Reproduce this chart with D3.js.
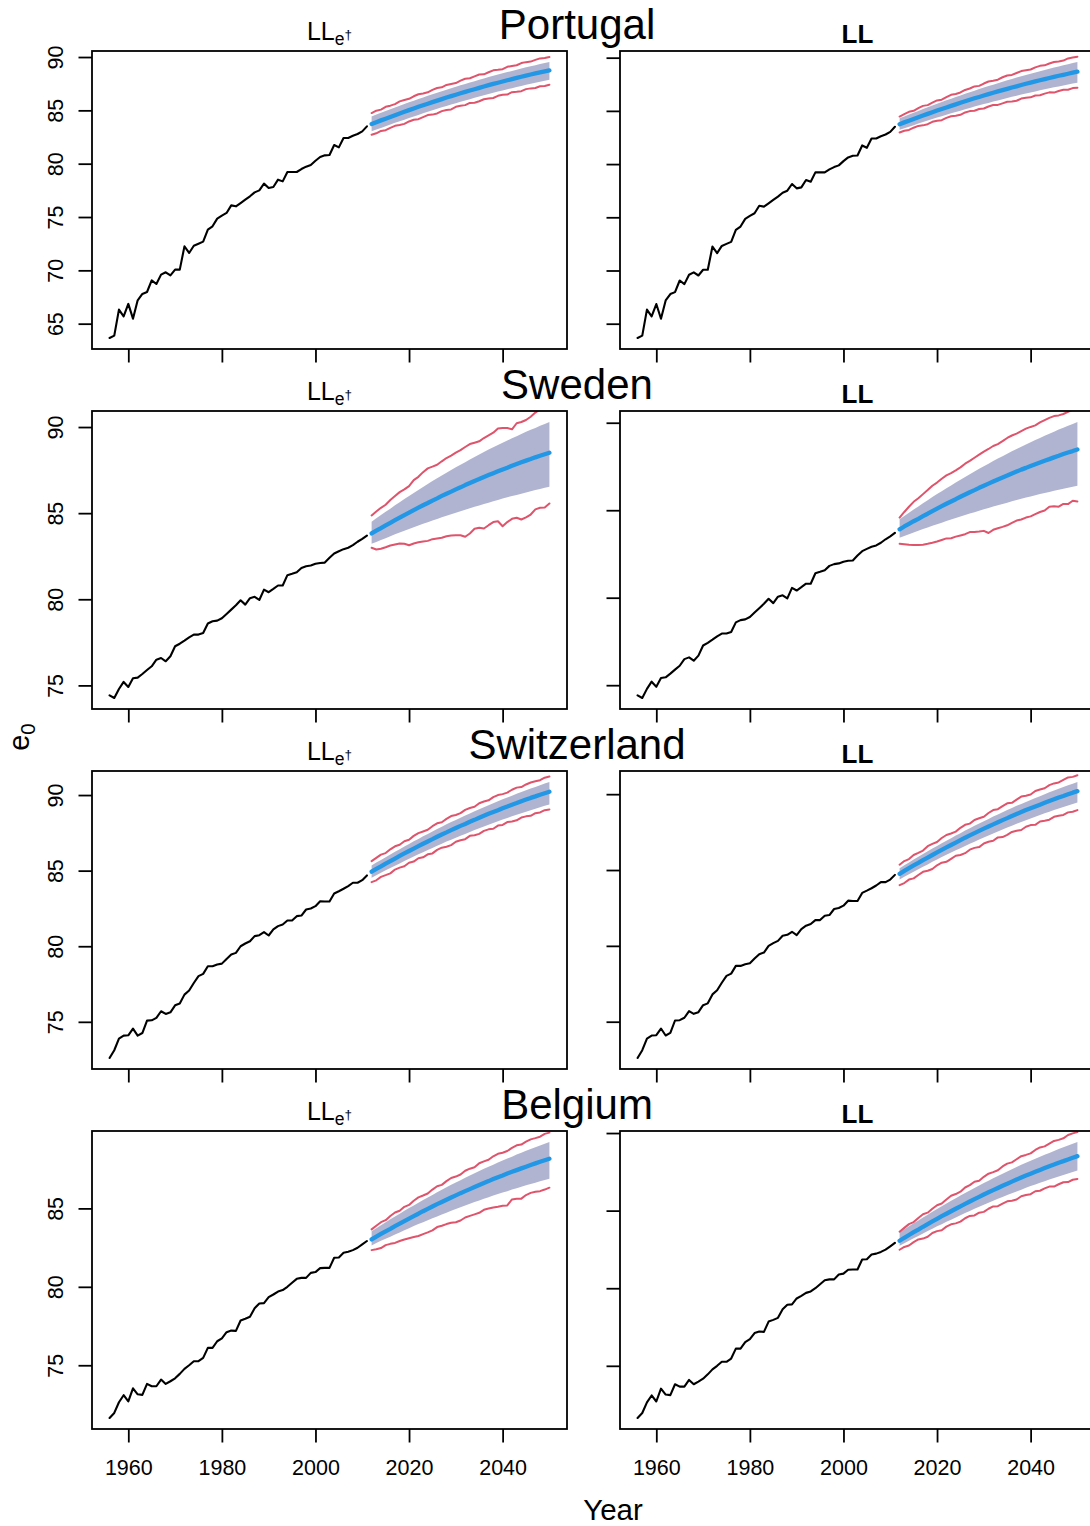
<!DOCTYPE html>
<html>
<head>
<meta charset="utf-8">
<script src="https://cdn.jsdelivr.net/npm/d3@7"></script>
<style>
  html, body { margin: 0; padding: 0; background: #fff; }
  svg { display: block; font-family: "Liberation Sans", Arial, Helvetica, sans-serif; }
</style>
</head>
<body>
<svg id="chart" width="1090" height="1526"></svg>
<script>
// ---------------------------------------------------------------------------
// Female life expectancy at birth (e0): observed 1956-2011, forecast 2012-2050
// ---------------------------------------------------------------------------
const histYears = d3.range(1956, 2012);
const fcYears = d3.range(2012, 2051);

const countries = ["Portugal", "Sweden", "Switzerland", "Belgium"];
const methodLabels = ["LLe†", "LL"];

// Observed series
const ptHist = [63.66, 63.88, 66.32, 65.69, 66.85, 65.47, 67.19, 67.79, 67.97, 69.06,
  68.72, 69.60, 69.82, 69.53, 70.07, 70.07, 72.25, 71.63, 72.31, 72.50,
  72.69, 73.81, 74.13, 74.85, 75.13, 75.38, 76.09, 76.00, 76.31, 76.63,
  76.94, 77.31, 77.50, 78.13, 77.72, 77.81, 78.50, 78.34, 79.22, 79.22,
  79.22, 79.50, 79.72, 79.88, 80.28, 80.63, 80.78, 80.81, 81.75, 81.53,
  82.41, 82.41, 82.62, 82.78, 83.03, 83.50];
const seHist = [74.42, 74.27, 74.79, 75.20, 74.91, 75.41, 75.45, 75.66, 75.89, 76.11,
  76.49, 76.59, 76.40, 76.69, 77.27, 77.42, 77.60, 77.79, 77.95, 77.95,
  78.04, 78.59, 78.72, 78.76, 78.90, 79.15, 79.40, 79.65, 79.94, 79.69,
  80.06, 80.14, 79.96, 80.56, 80.41, 80.60, 80.80, 80.80, 81.40, 81.48,
  81.57, 81.82, 81.92, 81.96, 82.06, 82.11, 82.13, 82.41, 82.66, 82.79,
  82.91, 82.99, 83.14, 83.34, 83.51, 83.70];
const chHist = [72.61, 73.12, 73.89, 74.09, 74.11, 74.55, 74.09, 74.26, 75.08, 75.10,
  75.26, 75.70, 75.52, 75.63, 76.09, 76.21, 76.80, 77.07, 77.57, 78.02,
  78.17, 78.68, 78.68, 78.79, 78.85, 79.16, 79.45, 79.56, 80.00, 80.18,
  80.33, 80.67, 80.73, 80.93, 80.71, 81.11, 81.33, 81.44, 81.70, 81.70,
  81.99, 82.03, 82.43, 82.50, 82.65, 82.98, 82.96, 82.96, 83.49, 83.64,
  83.80, 83.98, 84.20, 84.20, 84.37, 84.68];
const beHist = [71.64, 71.96, 72.64, 73.09, 72.70, 73.53, 73.15, 73.11, 73.81, 73.66,
  73.66, 74.09, 73.81, 73.98, 74.17, 74.45, 74.77, 75.00, 75.26, 75.26,
  75.47, 76.11, 76.11, 76.53, 76.72, 77.11, 77.21, 77.19, 77.85, 77.96,
  78.09, 78.64, 78.94, 78.96, 79.34, 79.51, 79.70, 79.79, 80.00, 80.26,
  80.51, 80.57, 80.57, 80.89, 80.94, 81.19, 81.21, 81.21, 81.85, 81.87,
  82.17, 82.23, 82.34, 82.49, 82.70, 82.92];

// Portugal forecasts
const ptLLeMean = [83.72, 83.89, 84.06, 84.22, 84.38, 84.55, 84.71, 84.87, 85.02, 85.17, 85.33, 85.48, 85.62, 85.77, 85.91, 86.05, 86.20, 86.33, 86.47, 86.60, 86.73, 86.86, 86.98, 87.11, 87.24, 87.36, 87.48, 87.59, 87.71, 87.82, 87.93, 88.04, 88.15, 88.25, 88.36, 88.46, 88.56, 88.65, 88.75];
const ptLLeInnerHi = [84.43, 84.60, 84.77, 84.94, 85.10, 85.27, 85.43, 85.59, 85.75, 85.90, 86.06, 86.21, 86.36, 86.51, 86.65, 86.80, 86.94, 87.08, 87.22, 87.35, 87.48, 87.61, 87.74, 87.87, 87.99, 88.12, 88.24, 88.36, 88.47, 88.59, 88.70, 88.81, 88.92, 89.03, 89.13, 89.23, 89.34, 89.43, 89.53];
const ptLLeInnerLo = [83.03, 83.20, 83.35, 83.51, 83.67, 83.83, 83.98, 84.13, 84.28, 84.43, 84.57, 84.72, 84.86, 85.00, 85.14, 85.28, 85.41, 85.54, 85.67, 85.80, 85.92, 86.05, 86.17, 86.29, 86.41, 86.53, 86.65, 86.76, 86.87, 86.98, 87.08, 87.19, 87.29, 87.39, 87.49, 87.59, 87.69, 87.78, 87.87];
const ptLLeOuterHi = [84.75, 84.97, 85.07, 85.33, 85.44, 85.58, 85.84, 85.97, 86.08, 86.32, 86.51, 86.58, 86.69, 86.92, 87.10, 87.16, 87.38, 87.48, 87.56, 87.79, 87.96, 88.01, 88.19, 88.36, 88.38, 88.57, 88.75, 88.80, 88.86, 89.08, 89.16, 89.23, 89.43, 89.52, 89.57, 89.73, 89.87, 89.90, 90.00];
const ptLLeOuterLo = [82.72, 82.85, 83.07, 83.14, 83.36, 83.55, 83.62, 83.73, 83.96, 84.12, 84.17, 84.36, 84.56, 84.60, 84.71, 84.93, 85.04, 85.09, 85.33, 85.43, 85.49, 85.70, 85.72, 85.85, 86.04, 86.11, 86.16, 86.36, 86.46, 86.48, 86.70, 86.74, 86.80, 86.99, 87.06, 87.10, 87.26, 87.29, 87.40];
const ptLLMean = [83.75, 83.92, 84.08, 84.24, 84.40, 84.56, 84.72, 84.87, 85.03, 85.18, 85.32, 85.47, 85.61, 85.76, 85.90, 86.04, 86.18, 86.31, 86.44, 86.57, 86.70, 86.83, 86.95, 87.07, 87.20, 87.31, 87.43, 87.55, 87.66, 87.77, 87.88, 87.99, 88.09, 88.19, 88.30, 88.39, 88.49, 88.59, 88.68];
const ptLLInnerHi = [84.30, 84.48, 84.65, 84.83, 85.00, 85.17, 85.34, 85.51, 85.67, 85.83, 85.99, 86.15, 86.30, 86.45, 86.61, 86.76, 86.90, 87.05, 87.19, 87.33, 87.46, 87.60, 87.73, 87.87, 88.00, 88.13, 88.25, 88.37, 88.50, 88.61, 88.73, 88.84, 88.96, 89.07, 89.18, 89.28, 89.39, 89.49, 89.59];
const ptLLInnerLo = [83.22, 83.37, 83.52, 83.66, 83.81, 83.95, 84.09, 84.23, 84.37, 84.50, 84.63, 84.77, 84.90, 85.02, 85.15, 85.28, 85.40, 85.52, 85.64, 85.75, 85.87, 85.98, 86.10, 86.21, 86.32, 86.42, 86.53, 86.63, 86.73, 86.83, 86.93, 87.03, 87.12, 87.21, 87.30, 87.39, 87.48, 87.57, 87.65];
const ptLLOuterHi = [84.47, 84.69, 84.91, 85.01, 85.25, 85.47, 85.54, 85.77, 85.98, 86.05, 86.29, 86.51, 86.59, 86.73, 86.97, 87.10, 87.30, 87.35, 87.57, 87.76, 87.83, 87.93, 88.16, 88.32, 88.38, 88.56, 88.74, 88.81, 88.89, 89.09, 89.23, 89.28, 89.45, 89.60, 89.65, 89.73, 89.93, 90.02, 90.09];
const ptLLOuterLo = [82.97, 83.13, 83.21, 83.42, 83.59, 83.64, 83.75, 83.97, 84.08, 84.13, 84.34, 84.49, 84.54, 84.63, 84.85, 84.98, 85.01, 85.18, 85.22, 85.41, 85.55, 85.56, 85.71, 85.86, 85.88, 85.95, 86.16, 86.23, 86.27, 86.45, 86.47, 86.62, 86.74, 86.72, 86.87, 86.99, 86.99, 87.14, 87.18];

// Sweden forecasts
const seLLeMean = [83.82, 83.98, 84.13, 84.29, 84.44, 84.59, 84.74, 84.89, 85.03, 85.18, 85.32, 85.46, 85.59, 85.73, 85.86, 86.00, 86.13, 86.25, 86.38, 86.50, 86.63, 86.75, 86.87, 86.98, 87.10, 87.21, 87.32, 87.43, 87.54, 87.64, 87.75, 87.85, 87.95, 88.05, 88.14, 88.24, 88.33, 88.42, 88.51];
const seLLeInnerHi = [84.50, 84.70, 84.89, 85.08, 85.26, 85.46, 85.64, 85.82, 86.00, 86.17, 86.35, 86.52, 86.69, 86.86, 87.02, 87.19, 87.35, 87.51, 87.66, 87.81, 87.96, 88.11, 88.26, 88.40, 88.55, 88.69, 88.83, 88.96, 89.09, 89.22, 89.35, 89.47, 89.60, 89.72, 89.84, 89.95, 90.07, 90.18, 90.29];
const seLLeInnerLo = [83.22, 83.33, 83.44, 83.55, 83.66, 83.77, 83.87, 83.98, 84.08, 84.18, 84.28, 84.38, 84.47, 84.57, 84.66, 84.76, 84.85, 84.94, 85.03, 85.11, 85.20, 85.29, 85.37, 85.45, 85.53, 85.61, 85.69, 85.77, 85.85, 85.92, 85.99, 86.06, 86.13, 86.20, 86.27, 86.34, 86.40, 86.47, 86.53];
const seLLeOuterHi = [84.87, 85.10, 85.31, 85.49, 85.76, 85.99, 86.22, 86.38, 86.57, 86.92, 87.11, 87.38, 87.60, 87.70, 87.81, 88.01, 88.20, 88.34, 88.51, 88.66, 88.84, 89.01, 89.09, 89.17, 89.36, 89.52, 89.67, 89.91, 89.94, 89.94, 89.87, 90.22, 90.29, 90.41, 90.60, 90.84, 91.03, 91.11, 91.18];
const seLLeOuterLo = [82.99, 82.89, 82.93, 83.02, 83.12, 83.18, 83.24, 83.22, 83.14, 83.24, 83.31, 83.35, 83.39, 83.49, 83.53, 83.57, 83.66, 83.70, 83.72, 83.72, 83.63, 83.82, 84.09, 84.15, 84.11, 84.30, 84.48, 84.53, 84.24, 84.48, 84.67, 84.73, 84.63, 84.75, 84.92, 85.22, 85.31, 85.33, 85.56];
const seLLMean = [83.91, 84.07, 84.22, 84.37, 84.51, 84.66, 84.80, 84.95, 85.09, 85.23, 85.37, 85.50, 85.63, 85.77, 85.90, 86.03, 86.15, 86.28, 86.40, 86.52, 86.64, 86.76, 86.87, 86.98, 87.10, 87.21, 87.32, 87.42, 87.53, 87.63, 87.73, 87.83, 87.92, 88.02, 88.11, 88.21, 88.30, 88.38, 88.47];
const seLLInnerHi = [84.48, 84.67, 84.85, 85.04, 85.21, 85.40, 85.57, 85.75, 85.92, 86.09, 86.25, 86.42, 86.58, 86.74, 86.90, 87.06, 87.22, 87.37, 87.52, 87.66, 87.81, 87.95, 88.09, 88.23, 88.37, 88.50, 88.63, 88.76, 88.89, 89.01, 89.13, 89.26, 89.37, 89.49, 89.61, 89.72, 89.83, 89.93, 90.04];
const seLLInnerLo = [83.43, 83.53, 83.63, 83.73, 83.82, 83.92, 84.01, 84.11, 84.20, 84.29, 84.38, 84.47, 84.55, 84.64, 84.73, 84.81, 84.89, 84.97, 85.05, 85.13, 85.21, 85.28, 85.36, 85.43, 85.51, 85.58, 85.65, 85.72, 85.79, 85.85, 85.92, 85.98, 86.04, 86.11, 86.17, 86.23, 86.29, 86.34, 86.40];
const seLLOuterHi = [84.58, 84.90, 85.20, 85.48, 85.68, 85.92, 86.15, 86.40, 86.58, 86.80, 86.99, 87.12, 87.28, 87.45, 87.66, 87.82, 88.00, 88.18, 88.35, 88.50, 88.67, 88.78, 88.95, 89.13, 89.27, 89.38, 89.52, 89.66, 89.76, 89.85, 90.02, 90.15, 90.28, 90.38, 90.42, 90.50, 90.62, 90.75, 90.86];
const seLLOuterLo = [83.08, 83.06, 83.03, 83.01, 83.01, 83.03, 83.08, 83.14, 83.21, 83.30, 83.39, 83.40, 83.49, 83.56, 83.63, 83.75, 83.76, 83.78, 83.82, 83.70, 83.88, 83.97, 84.05, 84.14, 84.28, 84.41, 84.47, 84.58, 84.65, 84.78, 84.90, 84.98, 85.20, 85.22, 85.20, 85.36, 85.35, 85.54, 85.50];

// Switzerland forecasts
const chLLeMean = [84.93, 85.11, 85.28, 85.46, 85.63, 85.80, 85.97, 86.14, 86.30, 86.46, 86.62, 86.78, 86.93, 87.08, 87.24, 87.39, 87.53, 87.68, 87.82, 87.96, 88.09, 88.23, 88.36, 88.50, 88.63, 88.76, 88.88, 89.00, 89.13, 89.24, 89.36, 89.47, 89.59, 89.70, 89.81, 89.91, 90.02, 90.12, 90.22];
const chLLeInnerHi = [85.34, 85.53, 85.71, 85.89, 86.07, 86.25, 86.42, 86.60, 86.77, 86.94, 87.10, 87.27, 87.43, 87.59, 87.75, 87.90, 88.06, 88.21, 88.35, 88.50, 88.64, 88.78, 88.92, 89.06, 89.20, 89.33, 89.46, 89.59, 89.72, 89.84, 89.96, 90.08, 90.20, 90.31, 90.43, 90.54, 90.65, 90.76, 90.86];
const chLLeInnerLo = [84.53, 84.70, 84.86, 85.02, 85.17, 85.33, 85.48, 85.64, 85.79, 85.93, 86.08, 86.22, 86.36, 86.50, 86.65, 86.78, 86.92, 87.05, 87.18, 87.30, 87.43, 87.56, 87.68, 87.80, 87.92, 88.04, 88.15, 88.27, 88.38, 88.48, 88.59, 88.70, 88.80, 88.90, 89.00, 89.10, 89.20, 89.29, 89.38];
const chLLeOuterHi = [85.63, 85.84, 86.06, 86.16, 86.41, 86.61, 86.71, 86.94, 87.04, 87.30, 87.48, 87.59, 87.70, 87.94, 88.13, 88.20, 88.42, 88.61, 88.68, 88.80, 89.02, 89.14, 89.22, 89.46, 89.57, 89.65, 89.86, 90.00, 90.06, 90.16, 90.35, 90.49, 90.53, 90.70, 90.83, 90.91, 90.98, 91.15, 91.22];
const chLLeOuterLo = [84.24, 84.36, 84.59, 84.70, 84.82, 85.07, 85.20, 85.29, 85.52, 85.60, 85.82, 85.88, 86.08, 86.14, 86.37, 86.52, 86.58, 86.69, 86.91, 87.01, 87.08, 87.30, 87.34, 87.43, 87.63, 87.73, 87.77, 87.98, 88.02, 88.21, 88.25, 88.33, 88.51, 88.59, 88.63, 88.80, 88.85, 89.00, 89.05];
const chLLMean = [84.75, 84.94, 85.12, 85.30, 85.47, 85.65, 85.82, 85.99, 86.16, 86.33, 86.49, 86.65, 86.81, 86.97, 87.13, 87.28, 87.43, 87.58, 87.73, 87.87, 88.01, 88.15, 88.29, 88.42, 88.56, 88.69, 88.82, 88.95, 89.07, 89.19, 89.31, 89.43, 89.55, 89.66, 89.78, 89.88, 89.99, 90.10, 90.20];
const chLLInnerHi = [85.12, 85.31, 85.50, 85.69, 85.87, 86.06, 86.23, 86.42, 86.59, 86.76, 86.93, 87.10, 87.27, 87.43, 87.60, 87.76, 87.92, 88.07, 88.22, 88.37, 88.52, 88.66, 88.81, 88.95, 89.09, 89.23, 89.36, 89.49, 89.62, 89.75, 89.87, 90.00, 90.12, 90.24, 90.36, 90.47, 90.58, 90.69, 90.80];
const chLLInnerLo = [84.38, 84.55, 84.72, 84.89, 85.05, 85.22, 85.37, 85.54, 85.69, 85.85, 86.00, 86.15, 86.30, 86.44, 86.59, 86.73, 86.87, 87.01, 87.15, 87.28, 87.41, 87.54, 87.67, 87.80, 87.92, 88.05, 88.17, 88.28, 88.40, 88.51, 88.62, 88.74, 88.84, 88.95, 89.06, 89.16, 89.26, 89.35, 89.45];
const chLLOuterHi = [85.35, 85.59, 85.72, 85.99, 86.13, 86.28, 86.57, 86.72, 86.85, 87.11, 87.31, 87.41, 87.53, 87.78, 87.98, 88.06, 88.30, 88.41, 88.51, 88.76, 88.95, 89.01, 89.21, 89.40, 89.43, 89.64, 89.84, 89.90, 89.98, 90.21, 90.31, 90.39, 90.60, 90.71, 90.77, 90.94, 91.10, 91.14, 91.25];
const chLLOuterLo = [84.00, 84.14, 84.37, 84.45, 84.67, 84.88, 84.95, 85.07, 85.31, 85.48, 85.54, 85.74, 85.94, 85.99, 86.11, 86.34, 86.46, 86.51, 86.75, 86.86, 86.93, 87.15, 87.17, 87.32, 87.51, 87.59, 87.64, 87.85, 87.96, 87.98, 88.20, 88.25, 88.32, 88.51, 88.58, 88.63, 88.80, 88.84, 88.95];

// Belgium forecasts
const beLLeMean = [83.02, 83.20, 83.37, 83.54, 83.70, 83.87, 84.03, 84.19, 84.35, 84.51, 84.66, 84.82, 84.97, 85.12, 85.27, 85.41, 85.55, 85.69, 85.83, 85.97, 86.10, 86.23, 86.36, 86.49, 86.62, 86.74, 86.87, 86.99, 87.10, 87.22, 87.33, 87.44, 87.55, 87.66, 87.77, 87.87, 87.97, 88.07, 88.17];
const beLLeInnerHi = [83.55, 83.74, 83.93, 84.12, 84.30, 84.49, 84.66, 84.85, 85.02, 85.19, 85.36, 85.53, 85.70, 85.86, 86.03, 86.19, 86.35, 86.50, 86.65, 86.80, 86.95, 87.09, 87.24, 87.38, 87.52, 87.66, 87.79, 87.92, 88.05, 88.18, 88.30, 88.43, 88.55, 88.67, 88.79, 88.90, 89.01, 89.12, 89.23];
const beLLeInnerLo = [82.64, 82.79, 82.93, 83.07, 83.20, 83.34, 83.47, 83.61, 83.74, 83.87, 84.00, 84.12, 84.25, 84.37, 84.49, 84.61, 84.73, 84.85, 84.96, 85.07, 85.18, 85.29, 85.40, 85.51, 85.61, 85.71, 85.82, 85.91, 86.01, 86.10, 86.20, 86.29, 86.38, 86.47, 86.56, 86.64, 86.73, 86.81, 86.89];
const beLLeOuterHi = [83.66, 83.89, 84.12, 84.25, 84.51, 84.74, 84.85, 85.10, 85.22, 85.49, 85.70, 85.82, 85.95, 86.20, 86.41, 86.50, 86.74, 86.94, 87.03, 87.16, 87.40, 87.53, 87.62, 87.88, 88.00, 88.10, 88.32, 88.48, 88.55, 88.66, 88.86, 89.02, 89.07, 89.25, 89.40, 89.48, 89.57, 89.75, 89.83];
const beLLeOuterLo = [82.34, 82.40, 82.47, 82.66, 82.74, 82.80, 82.92, 83.02, 83.10, 83.17, 83.24, 83.36, 83.47, 83.60, 83.81, 83.89, 84.00, 84.08, 84.12, 84.23, 84.42, 84.52, 84.62, 84.72, 84.91, 84.99, 85.06, 85.11, 85.17, 85.19, 85.57, 85.61, 85.62, 85.85, 85.99, 86.06, 86.10, 86.20, 86.32];
const beLLMean = [83.06, 83.25, 83.43, 83.61, 83.78, 83.96, 84.13, 84.30, 84.47, 84.64, 84.80, 84.96, 85.12, 85.28, 85.44, 85.59, 85.74, 85.89, 86.04, 86.18, 86.32, 86.46, 86.60, 86.73, 86.87, 87.00, 87.13, 87.26, 87.38, 87.50, 87.62, 87.74, 87.86, 87.97, 88.09, 88.19, 88.30, 88.41, 88.51];
const beLLInnerHi = [83.60, 83.80, 83.99, 84.18, 84.37, 84.56, 84.74, 84.93, 85.11, 85.28, 85.46, 85.63, 85.80, 85.97, 86.14, 86.30, 86.46, 86.62, 86.78, 86.93, 87.08, 87.23, 87.38, 87.52, 87.67, 87.81, 87.95, 88.08, 88.21, 88.34, 88.47, 88.60, 88.72, 88.84, 88.97, 89.08, 89.20, 89.31, 89.42];
const beLLInnerLo = [82.73, 82.90, 83.06, 83.22, 83.37, 83.53, 83.68, 83.84, 83.99, 84.13, 84.28, 84.42, 84.56, 84.70, 84.85, 84.98, 85.12, 85.25, 85.38, 85.50, 85.63, 85.76, 85.88, 86.00, 86.12, 86.24, 86.35, 86.47, 86.58, 86.68, 86.79, 86.90, 87.00, 87.10, 87.20, 87.30, 87.40, 87.49, 87.58];
const beLLOuterHi = [83.64, 83.89, 84.13, 84.26, 84.53, 84.77, 84.87, 85.12, 85.35, 85.46, 85.72, 85.96, 86.07, 86.22, 86.49, 86.64, 86.86, 86.93, 87.18, 87.38, 87.48, 87.60, 87.85, 88.03, 88.11, 88.31, 88.51, 88.59, 88.69, 88.91, 89.07, 89.14, 89.32, 89.49, 89.56, 89.66, 89.87, 89.98, 90.06];
const beLLOuterLo = [82.48, 82.66, 82.75, 82.97, 83.14, 83.20, 83.32, 83.56, 83.68, 83.74, 83.97, 84.12, 84.18, 84.29, 84.51, 84.66, 84.69, 84.87, 84.92, 85.12, 85.27, 85.29, 85.45, 85.60, 85.64, 85.72, 85.93, 86.01, 86.06, 86.25, 86.28, 86.43, 86.55, 86.55, 86.70, 86.83, 86.84, 86.99, 87.04];

// ---------------------------------------------------------------------------
// Assemble panels: one row per country, LLe† on the left, LL on the right
// ---------------------------------------------------------------------------
const rows = [
  { hist: ptHist, fc: [
    { mean: ptLLeMean, innerLo: ptLLeInnerLo, innerHi: ptLLeInnerHi, outerLo: ptLLeOuterLo, outerHi: ptLLeOuterHi },
    { mean: ptLLMean, innerLo: ptLLInnerLo, innerHi: ptLLInnerHi, outerLo: ptLLOuterLo, outerHi: ptLLOuterHi }] },
  { hist: seHist, fc: [
    { mean: seLLeMean, innerLo: seLLeInnerLo, innerHi: seLLeInnerHi, outerLo: seLLeOuterLo, outerHi: seLLeOuterHi },
    { mean: seLLMean, innerLo: seLLInnerLo, innerHi: seLLInnerHi, outerLo: seLLOuterLo, outerHi: seLLOuterHi }] },
  { hist: chHist, fc: [
    { mean: chLLeMean, innerLo: chLLeInnerLo, innerHi: chLLeInnerHi, outerLo: chLLeOuterLo, outerHi: chLLeOuterHi },
    { mean: chLLMean, innerLo: chLLInnerLo, innerHi: chLLInnerHi, outerLo: chLLOuterLo, outerHi: chLLOuterHi }] },
  { hist: beHist, fc: [
    { mean: beLLeMean, innerLo: beLLeInnerLo, innerHi: beLLeInnerHi, outerLo: beLLeOuterLo, outerHi: beLLeOuterHi },
    { mean: beLLMean, innerLo: beLLInnerLo, innerHi: beLLInnerHi, outerLo: beLLOuterLo, outerHi: beLLOuterHi }] }
];

// ---------------------------------------------------------------------------
// Layout and style
// ---------------------------------------------------------------------------
const W = 1090, H = 1526;
const colLeft = [92, 620];
const boxW = 475, boxH = 298;
const rowTop = [51, 411, 771, 1131];
const tickLen = 13.5;
const titleX = 577;
const col = { hist: "#000000", mean: "#2297E6", band: "#B0B4D0", outer: "#DF536B" };

// R-style axis range: data range extended by 4% on each side
const pad4 = ([lo, hi]) => [lo - 0.04 * (hi - lo), hi + 0.04 * (hi - lo)];

const svg = d3.select("#chart");
svg.append("rect").attr("width", W).attr("height", H).attr("fill", "#fff");

rows.forEach((row, r) => {
  const top = rowTop[r];

  // country title over the pair of panels
  svg.append("text")
    .attr("x", titleX).attr("y", top - 12)
    .attr("text-anchor", "middle")
    .attr("font-size", 42)
    .text(countries[r]);

  row.fc.forEach((fc, c) => {
    const left = colLeft[c];
    const x = d3.scaleLinear()
      .domain(pad4([histYears[0], fcYears[fcYears.length - 1]]))
      .range([left, left + boxW]);
    const y = d3.scaleLinear()
      .domain(pad4(d3.extent(row.hist.concat(fc.innerLo, fc.innerHi))))
      .range([top + boxH, top]);

    const g = svg.append("g");
    const clipId = `clip-${r}-${c}`;
    g.append("clipPath").attr("id", clipId)
      .append("rect").attr("x", left).attr("y", top).attr("width", boxW).attr("height", boxH);
    const plot = g.append("g").attr("clip-path", `url(#${clipId})`);

    const idx = d3.range(fcYears.length);

    // inner prediction band
    plot.append("path").datum(idx)
      .attr("fill", col.band)
      .attr("d", d3.area()
        .x(i => x(fcYears[i]))
        .y0(i => y(fc.innerLo[i]))
        .y1(i => y(fc.innerHi[i])));

    const fcLine = arr => d3.line().x(i => x(fcYears[i])).y(i => y(arr[i]));

    // observed series
    plot.append("path").datum(row.hist.map((v, i) => [histYears[i], v]))
      .attr("fill", "none").attr("stroke", col.hist).attr("stroke-width", 2.1)
      .attr("stroke-linejoin", "round").attr("stroke-linecap", "round")
      .attr("d", d3.line().x(d => x(d[0])).y(d => y(d[1])));

    // outer prediction limits
    [fc.outerLo, fc.outerHi].forEach(arr => {
      plot.append("path").datum(idx)
        .attr("fill", "none").attr("stroke", col.outer).attr("stroke-width", 2)
        .attr("stroke-linejoin", "round").attr("stroke-linecap", "round")
        .attr("d", fcLine(arr));
    });

    // forecast mean
    plot.append("path").datum(idx)
      .attr("fill", "none").attr("stroke", col.mean).attr("stroke-width", 4.3)
      .attr("stroke-linejoin", "round").attr("stroke-linecap", "round")
      .attr("d", fcLine(fc.mean));

    // frame
    g.append("rect")
      .attr("x", left).attr("y", top).attr("width", boxW).attr("height", boxH)
      .attr("fill", "none").attr("stroke", "#000").attr("stroke-width", 1.8);

    // x axis (labels on the bottom row only)
    const xAxis = g.append("g")
      .attr("transform", `translate(0,${top + boxH})`)
      .call(d3.axisBottom(x).ticks(5).tickSize(tickLen).tickPadding(17.5)
        .tickFormat(r === rows.length - 1 ? d3.format("d") : () => ""));
    xAxis.select(".domain").remove();
    xAxis.selectAll("line").attr("stroke", "#000").attr("stroke-width", 1.8);
    xAxis.selectAll("text").attr("font-size", 21.5).attr("fill", "#000")
      .attr("font-family", "Liberation Sans, Arial, sans-serif");

    // y axis (labels on the left column only, written vertically)
    const yAxis = g.append("g")
      .attr("transform", `translate(${left},0)`)
      .call(d3.axisLeft(y).ticks(5).tickSize(tickLen)
        .tickFormat(c === 0 ? d3.format("d") : () => ""));
    yAxis.select(".domain").remove();
    yAxis.selectAll("line").attr("stroke", "#000").attr("stroke-width", 1.8);
    yAxis.selectAll("text")
      .attr("font-size", 21.5).attr("fill", "#000")
      .attr("font-family", "Liberation Sans, Arial, sans-serif")
      .attr("x", null).attr("dy", null)
      .attr("text-anchor", "middle")
      .attr("transform", "translate(-29.5,0) rotate(-90)");

    // method label above each panel
    const cx = left + boxW / 2;
    if (c === 0) {
      const t = g.append("text")
        .attr("x", cx).attr("y", top - 11)
        .attr("text-anchor", "middle")
        .attr("font-size", 25);
      t.append("tspan").text("LL");
      t.append("tspan").attr("font-size", 17.5).attr("dy", 4.5).text("e");
      t.append("tspan").attr("font-size", 13.5).attr("dy", -5.5).text("†");
    } else {
      g.append("text")
        .attr("x", cx).attr("y", top - 8.5)
        .attr("text-anchor", "middle")
        .attr("font-size", 26).attr("font-weight", "bold")
        .text(methodLabels[1]);
    }
  });
});

// shared axis titles
const ylab = svg.append("text")
  .attr("transform", "translate(29,737) rotate(-90)")
  .attr("text-anchor", "middle")
  .attr("font-size", 29);
ylab.append("tspan").text("e");
ylab.append("tspan").attr("font-size", 20.5).attr("dy", 6).text("0");

svg.append("text")
  .attr("x", 613).attr("y", 1520)
  .attr("text-anchor", "middle")
  .attr("font-size", 29.5)
  .text("Year");
</script>
</body>
</html>
